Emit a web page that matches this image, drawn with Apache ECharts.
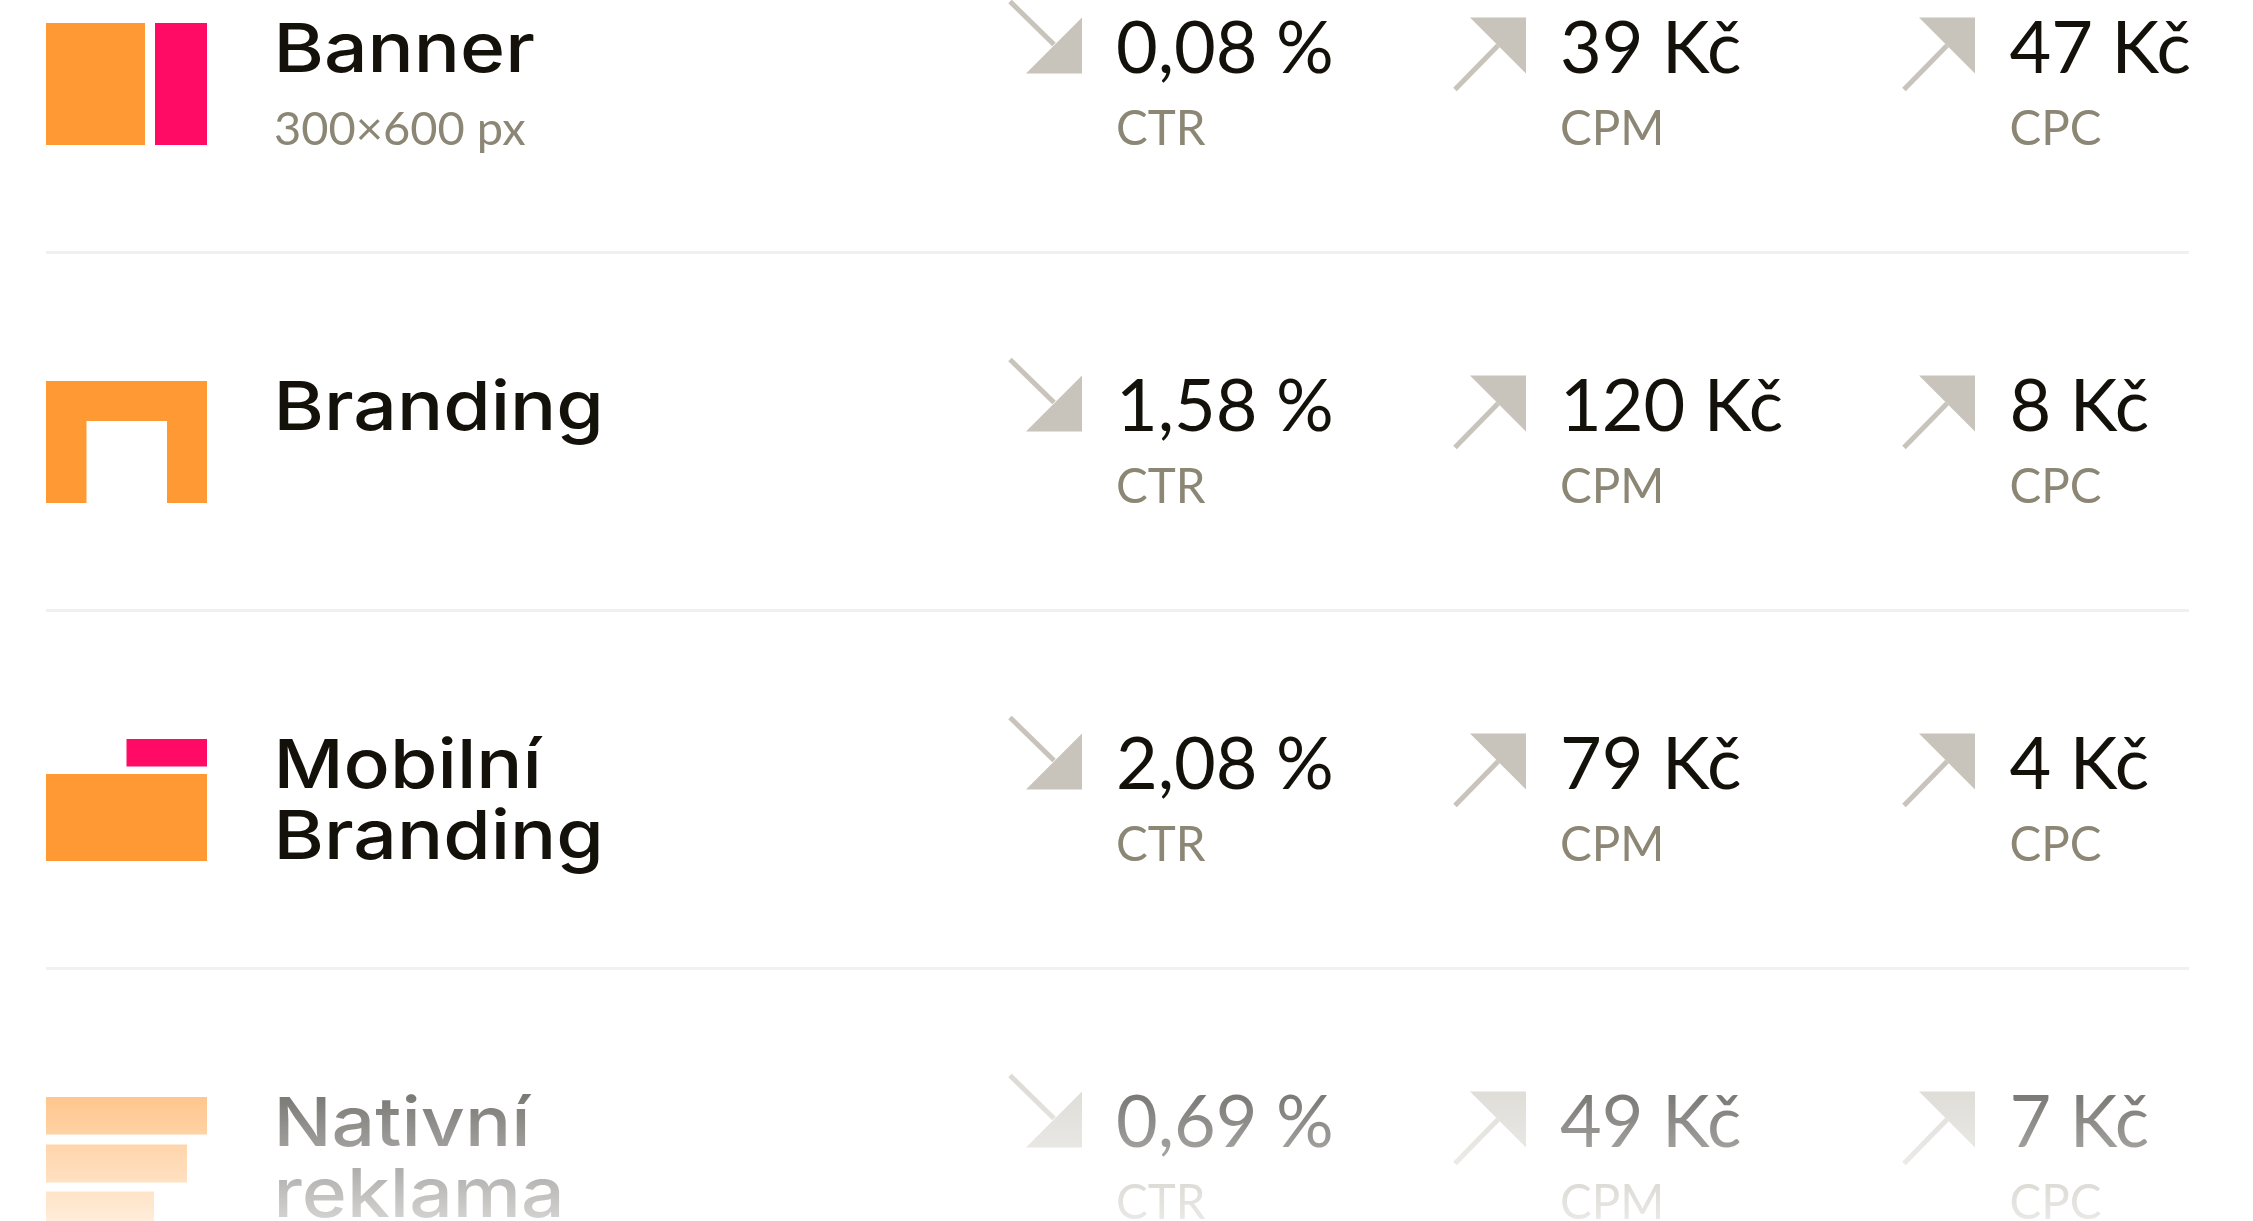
<!DOCTYPE html>
<html><head><meta charset="utf-8">
<style>html,body{margin:0;padding:0;background:#fff}#c{width:2253px;height:1221px}</style>
<script src="https://cdn.jsdelivr.net/npm/echarts@6/dist/echarts.min.js"></script>
</head><body><div id="c"></div>
<script>
const rowNames = ['Banner', 'Branding', 'Mobilní\nBranding', 'Nativní\nreklama'];
const rowNotes = ['300×600 px', '', '', ''];
const ctrValues = ['0,08 %', '1,58 %', '2,08 %', '0,69 %'];
const cpmValues = ['39 Kč', '120 Kč', '79 Kč', '49 Kč'];
const cpcValues = ['47 Kč', '8 Kč', '4 Kč', '7 Kč'];
const metricNames = ['CTR', 'CPM', 'CPC'];
const metricTrend = ['down', 'up', 'up'];

const ORANGE = '#ff9933', PINK = '#ff0a64', INK = '#14110b', MUTED = '#8c8675', ARROW = '#c8c4bb';
const iconRects = [
  [[46,145,-50.5,71.5,ORANGE],[155,207,-50.5,71.5,PINK]],
  [[46,207,-50.5,-10.5,ORANGE],[46,86.5,-12,71.5,ORANGE],[167,207,-12,71.5,ORANGE]],
  [[126.5,207,-50.5,-23,PINK],[46,207,-15.5,71.5,ORANGE]],
  [[46,207,-50.5,-13,ORANGE],[46,187,-3,35,ORANGE],[46,154,44,82,ORANGE]]
];
const metricX = [1026, 1470, 1919];
const textX = [1116, 1560, 2009.5];

const chart = echarts.init(document.getElementById('c'), null, {renderer:'canvas'});

function renderRow(params, api) {
  const row = api.value(0);
  const c = api.coord([46, row]);
  const cy = c[1];
  const kids = [];
  iconRects[row].forEach(r => {
    const a = api.coord([r[0], row]), b = api.coord([r[1], row]);
    kids.push({type:'rect', shape:{x:a[0], y:cy + r[2], width:b[0]-a[0], height:r[3]-r[2]}, style:{fill:r[4]}});
  });
  const name = rowNames[row].split('\n');
  name.forEach((t, i) => kids.push({type:'text', x:api.coord([273.5,row])[0], y:cy + 12 + i*71.5, scaleX:1.13, style:{
    text:t, fill:INK, font:'550 68px Inter', textAlign:'left', textVerticalAlign:'bottom'}}));
  if (rowNotes[row]) kids.push({type:'text', x:api.coord([274,row])[0], y:cy + 80, style:{
    text:rowNotes[row], fill:MUTED, font:'400 47px Lato', textAlign:'left', textVerticalAlign:'bottom'}});
  const vals = [ctrValues, cpmValues, cpcValues];
  metricNames.forEach((m, k) => {
    const x0 = metricX[k];
    const up = metricTrend[k] === 'up';
    const tri = up
      ? [[x0,cy-56],[x0+56,cy-56],[x0+56,cy]]
      : [[x0,cy],[x0+56,cy],[x0+56,cy-56]];
    kids.push({type:'polygon', shape:{points:tri}, style:{fill:ARROW}});
    const ln = up
      ? [[x0-15,cy+16],[x0+28,cy-28]]
      : [[x0-16,cy-72],[x0+28,cy-29]];
    kids.push({type:'line', shape:{x1:ln[0][0],y1:ln[0][1],x2:ln[1][0],y2:ln[1][1]}, style:{stroke:ARROW, lineWidth:5}});
    kids.push({type:'text', x:textX[k], y:cy + 12, style:{text:vals[k][row], fill:INK, font:'400 72px Lato', textAlign:'left', textVerticalAlign:'bottom'}});
    kids.push({type:'text', x:textX[k], y:cy + 80, style:{text:m, fill:MUTED, font:'400 47.5px Lato', textAlign:'left', textVerticalAlign:'bottom'}});
  });
  return {type:'group', children:kids};
}

chart.setOption({
  animation:false,
  backgroundColor:'#ffffff',
  grid:{left:46, width:2143, top:-105.5, height:1432, outerBoundsMode:'none', containLabel:false},
  xAxis:{type:'value', min:46, max:2189, show:false},
  yAxis:{type:'category', inverse:true, data:rowNames, axisLine:{show:false}, axisTick:{show:false}, axisLabel:{show:false},
    splitLine:{show:true, lineStyle:{color:'#f0f0f0', width:3}}},
  series:[{type:'custom', clip:false, coordinateSystem:'cartesian2d', silent:true, encode:{x:1,y:0},
    data:rowNames.map((n,i)=>[i,46]), renderItem:renderRow}],
  graphic:[{type:'rect', z:1000, silent:true, shape:{x:0,y:950,width:2253,height:271},
    style:{fill:new echarts.graphic.LinearGradient(0,0,0,1,[
      {offset:0,color:'rgba(255,255,255,0)'},{offset:1,color:'rgba(255,255,255,0.82)'}])}}]
});
</script></body></html>
